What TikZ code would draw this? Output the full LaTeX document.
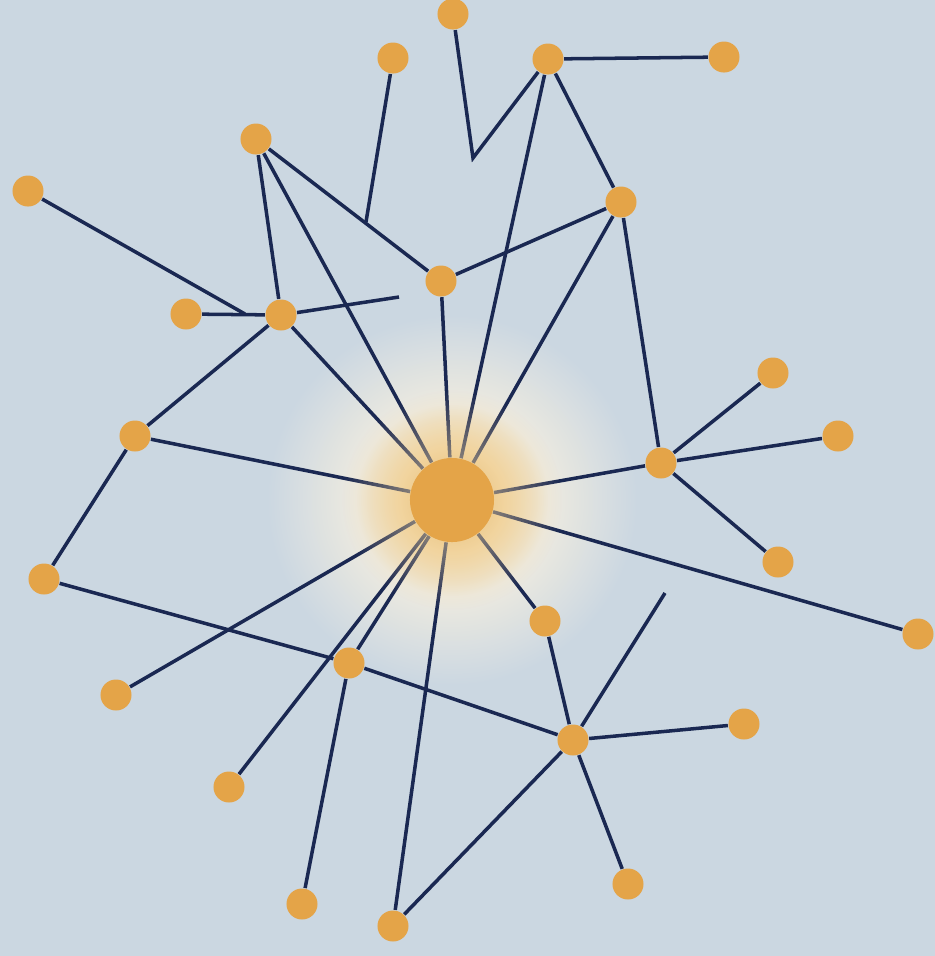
\documentclass[tikz,border=0pt]{standalone}
\usetikzlibrary{backgrounds,fadings}

\definecolor{bgblue}{RGB}{203,215,225}
\definecolor{dotorange}{RGB}{228,164,72}
\definecolor{edgenavy}{RGB}{26,40,82}
\definecolor{glowcream}{RGB}{237,234,224}
\definecolor{glowmid}{RGB}{241,212,158}

\pgfdeclareradialshading{hubglow}{\pgfpoint{0bp}{0bp}}{color(0bp)=(dotorange); color(7bp)=(glowmid); color(13bp)=(glowcream); color(25bp)=(bgblue); color(50bp)=(bgblue)}
\tikzfading[name=hubfade, inner color=transparent!20, outer color=transparent!100]

\begin{document}
\begin{tikzpicture}[x=0.01cm, y=-0.01cm,
    dot/.style={circle, fill=dotorange, inner sep=0pt, minimum size=0.31cm},
    hub/.style={circle, fill=dotorange, inner sep=0pt, minimum size=0.84cm},
    link/.style={draw=edgenavy, line width=1pt}]

    \useasboundingbox (0,0) rectangle (935,956);

    % Outer nodes
    \foreach \name/\x/\y in {n1/453/14, n2/393/58, n3/548/59, n4/724/57,
        n5/256/139, n6/28/191, n7/621/202, n8/441/281, n9/186/314,
        n10/281/315, n11/773/373, n12/838/436, n13/135/436, n14/661/463,
        n15/778/562, n16/44/579, n17/918/634, n18/545/621, n19/349/663,
        n20/116/695, n21/744/724, n22/573/740, n23/229/787, n24/628/884,
        n25/302/904, n26/393/926} {
        \node[dot] (\name) at (\x,\y) {};
    }
    % Central node
    \node[hub] (hub) at (452,500) {};

    % Loose ends
    \coordinate (j1) at (473,158);
    \coordinate (j2) at (366,222);
    \coordinate (j3) at (245,314);
    \coordinate (j4) at (399,297);
    \coordinate (j5) at (665,593);

    \begin{scope}[on background layer]
    % Background and glow
    \fill[bgblue] (0,0) rectangle (935,956);
    \shade[shading=hubglow] (hub.center) circle (185);

    % Links
    \foreach \a/\b in {n3/n4, n3/n7, n3/hub, n5/n8, n5/n10, n5/hub,
        n9/n10, n10/hub, n10/n13, n7/n8, n7/hub, n7/n14, n8/hub,
        n13/hub, n13/n16, n14/hub, n14/n11, n14/n12, n14/n15,
        hub/n17, hub/n18, n18/n22, n22/n21, n22/n24, n22/n26,
        n16/n19, n19/n22, hub/n19, hub/n23, hub/n20, n19/n25, hub/n26} {
        \draw[link] (\a) -- (\b);
    }
    \draw[link] (n1) -- (j1) -- (n3);
    \draw[link] (n2) -- (j2);
    \draw[link] (n6) -- (j3);
    \draw[link] (n10) -- (j4);
    \draw[link] (n22) -- (j5);

    % Haze over the links near the hub
    \fill[glowmid, path fading=hubfade] (hub.center) circle (110);
    \end{scope}
\end{tikzpicture}
\end{document}
